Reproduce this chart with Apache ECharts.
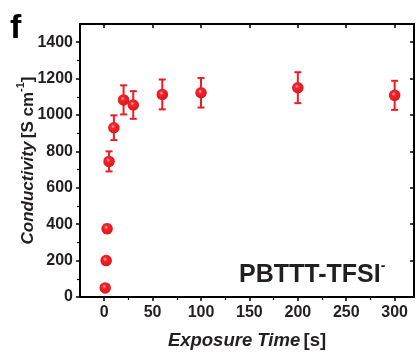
<!DOCTYPE html>
<html>
<head>
<meta charset="utf-8">
<script src="https://cdn.jsdelivr.net/npm/echarts@6/dist/echarts.min.js"></script>
<style>
html,body{margin:0;padding:0;background:#fff;}
#chart{width:416px;height:352px;}
</style>
</head>
<body>
<div id="chart"></div>
<script>
// Data
const exposureTime = [1, 2, 3, 5, 10, 20, 30, 60, 100, 200, 300];
const conductivity = [50, 200, 375, 745, 930, 1083, 1055, 1113, 1122, 1150, 1108];
const errorBar = [8, 10, 22, 55, 68, 80, 76, 82, 81, 85, 80];
const xTickValues = [0, 50, 100, 150, 200, 250, 300];
const xMinorValues = [25, 75, 125, 175, 225, 275];
const yTickValues = [0, 200, 400, 600, 800, 1000, 1200, 1400];
const yMinorValues = [100, 300, 500, 700, 900, 1100, 1300];

const RED = '#ec1c24';
const TXT = '#231f20';
const FONT = '"Liberation Sans", Arial, sans-serif';

const points = exposureTime.map((t, i) => [t, conductivity[i]]);
const errData = exposureTime.map((t, i) => [t, conductivity[i] - errorBar[i], conductivity[i] + errorBar[i]]);

const chart = echarts.init(document.getElementById('chart'), null, {renderer: 'canvas'});

const baseX = {type: 'value', min: -25, max: 320, splitLine: {show: false}};
const baseY = {type: 'value', min: 0, max: 1500, splitLine: {show: false}};
const plain = v => String(v);

chart.setOption({
  animation: false,
  grid: {left: 80, right: 2, top: 24, bottom: 55, containLabel: false, outerBoundsMode: 'none'},
  xAxis: [
    Object.assign({}, baseX, {
      position: 'bottom',
      axisLine: {onZero: false, lineStyle: {color: '#000', width: 2}},
      axisTick: {show: true, length: 4, inside: false, lineStyle: {color: '#000', width: 1.5}, customValues: xTickValues},
      axisLabel: {customValues: xTickValues, formatter: plain, color: TXT, fontFamily: FONT, fontWeight: 'bold', fontSize: 16, margin: 8},
      name: '{i|Exposure Time} {n|[s]}',
      nameLocation: 'middle',
      nameGap: 34,
      nameTextStyle: {
        rich: {
          i: {fontFamily: FONT, fontWeight: 'bold', fontStyle: 'italic', fontSize: 18.5, color: TXT},
          n: {fontFamily: FONT, fontWeight: 'bold', fontSize: 18.5, color: TXT}
        }
      }
    }),
    Object.assign({}, baseX, {
      position: 'bottom',
      axisLine: {show: false, onZero: false},
      axisTick: {show: true, length: 3, inside: false, lineStyle: {color: '#000', width: 1.2}, customValues: xMinorValues},
      axisLabel: {show: false}
    }),
    Object.assign({}, baseX, {
      position: 'top',
      axisLine: {show: true, onZero: false, lineStyle: {color: '#000', width: 2}},
      axisTick: {show: true, length: 4, inside: true, lineStyle: {color: '#000', width: 1.5}, customValues: xTickValues},
      axisLabel: {show: false}
    })
  ],
  yAxis: [
    Object.assign({}, baseY, {
      position: 'left',
      axisLine: {show: true, onZero: false, lineStyle: {color: '#000', width: 2}},
      axisTick: {show: true, length: 4, inside: false, lineStyle: {color: '#000', width: 1.5}, customValues: yTickValues},
      axisLabel: {customValues: yTickValues, formatter: plain, color: TXT, fontFamily: FONT, fontWeight: 'bold', fontSize: 16, margin: 7},
      name: '{i|Conductivity} {n|[S cm}{s|-1}{n|]}',
      nameLocation: 'middle',
      nameGap: 43,
      nameMoveOverlap: false,
      nameRotate: 90,
      nameTextStyle: {
        rich: {
          i: {fontFamily: FONT, fontWeight: 'bold', fontStyle: 'italic', fontSize: 17, color: TXT, lineHeight: 22, verticalAlign: 'bottom'},
          n: {fontFamily: FONT, fontWeight: 'bold', fontSize: 17, color: TXT, lineHeight: 22, verticalAlign: 'bottom'},
          s: {fontFamily: FONT, fontWeight: 'bold', fontSize: 11, color: TXT, lineHeight: 22, verticalAlign: 'top'}
        }
      }
    }),
    Object.assign({}, baseY, {
      position: 'left',
      axisLine: {show: false, onZero: false},
      axisTick: {show: true, length: 3, inside: false, lineStyle: {color: '#000', width: 1.2}, customValues: yMinorValues},
      axisLabel: {show: false}
    }),
    Object.assign({}, baseY, {
      position: 'right',
      axisLine: {show: true, onZero: false, lineStyle: {color: '#000', width: 2}},
      axisTick: {show: true, length: 4, inside: true, lineStyle: {color: '#000', width: 1.5}, customValues: yTickValues},
      axisLabel: {show: false}
    })
  ],
  series: [
    {
      type: 'custom',
      xAxisIndex: 0, yAxisIndex: 0,
      data: errData,
      z: 2,
      renderItem: function (params, api) {
        const x = api.value(0);
        const lo = api.coord([x, api.value(1)]);
        const hi = api.coord([x, api.value(2)]);
        const cap = 3.5;
        const style = {stroke: RED, lineWidth: 2};
        return {
          type: 'group',
          children: [
            {type: 'line', shape: {x1: lo[0], y1: lo[1], x2: hi[0], y2: hi[1]}, style: style},
            {type: 'line', shape: {x1: lo[0] - cap, y1: lo[1], x2: lo[0] + cap, y2: lo[1]}, style: style},
            {type: 'line', shape: {x1: hi[0] - cap, y1: hi[1], x2: hi[0] + cap, y2: hi[1]}, style: style}
          ]
        };
      }
    },
    {
      type: 'scatter',
      xAxisIndex: 0, yAxisIndex: 0,
      data: points,
      z: 3,
      symbol: 'circle',
      symbolSize: 11.5,
      itemStyle: {
        opacity: 1,
        color: {
          type: 'radial', x: 0.42, y: 0.38, r: 0.6,
          colorStops: [
            {offset: 0, color: '#ffb0b0'},
            {offset: 0.3, color: '#f2242b'},
            {offset: 1, color: '#e0161d'}
          ]
        }
      }
    }
  ],
  graphic: [
    {
      type: 'text', left: 10, top: 12,
      style: {text: 'f', fontFamily: FONT, fontWeight: 'bold', fontSize: 34, fill: '#000'}
    },
    {
      type: 'text', left: 239, top: 259,
      style: {
        text: '{b|PBTTT-TFSI}{s|-}',
        rich: {
          b: {fontFamily: FONT, fontWeight: 'bold', fontSize: 25, fill: TXT, lineHeight: 29, verticalAlign: 'bottom'},
          s: {fontFamily: FONT, fontWeight: 'bold', fontSize: 14, fill: TXT, lineHeight: 29, verticalAlign: 'top'}
        }
      }
    }
  ]
});
</script>
</body>
</html>
